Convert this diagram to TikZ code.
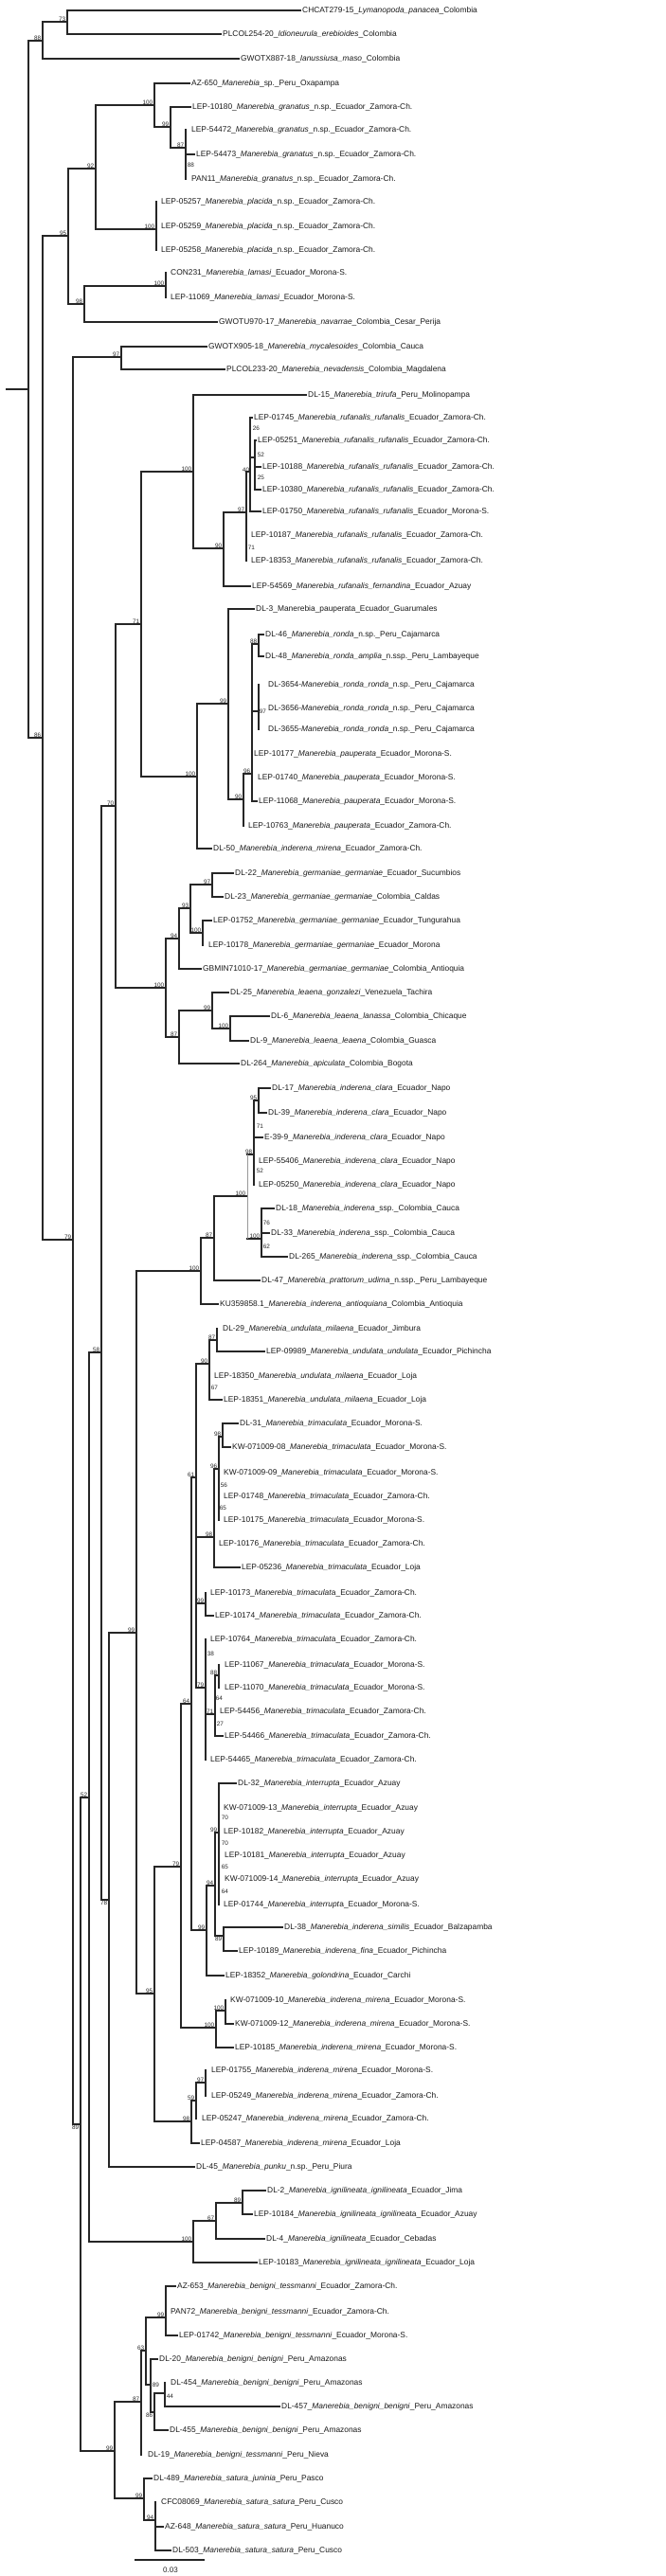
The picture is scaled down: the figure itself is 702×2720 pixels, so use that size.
\documentclass[tikz,border=0pt]{standalone}
\usepackage{fontspec}
\setmainfont{Liberation Sans}
\tikzset{
 br/.style={line width=1.3pt, draw=black!85, line cap=rect},
 leaf/.style={anchor=west, inner xsep=2pt, inner ysep=0pt, text height=6.4pt, text depth=0.6pt, font=\fontsize{8.4}{10}\selectfont, text=black!90},
 sup/.style={inner sep=0.7pt, font=\fontsize{6.4}{7}\selectfont, text=black!85},
}
\newcommand\Lf[4]{\node[leaf] (#1) at (#2-2,#3) {#4};}
\newcommand\Nd[3]{\coordinate (#1) at (#2,#3);}
\newcommand\Br[2]{\draw[br] (#1 |- #2.west) -- (#2.west);}
\newcommand\Vt[3]{\draw[br] (#1 |- #2) -- (#1 |- #3);}
\newcommand\St[2]{\draw[br] (#1 |- #2) -- (#2);}
\newcommand\Sl[2]{\node[sup,anchor=south east] at ([xshift=-0.8pt]#1) {#2};}
\newcommand\Slb[2]{\node[sup,anchor=north east] at ([xshift=-0.8pt]#1) {#2};}
\newcommand\Sx[3]{\node[sup,anchor=west] at (#1,#2) {#3};}
\newcommand\Spn[3]{#1\_\textit{#2}\_#3}
\begin{document}
\begin{tikzpicture}[x=1pt,y=-1pt]
\useasboundingbox (0,0) rectangle (702,2720);
% ---------------- leaves
\Lf{L1}{319}{11}{\Spn{CHCAT279-15}{Lymanopoda\_panacea}{Colombia}}
\Lf{L2}{235}{36}{\Spn{PLCOL254-20}{Idioneurula\_erebioides}{Colombia}}
\Lf{L3}{254}{62}{\Spn{GWOTX887-18}{Ianussiusa\_maso}{Colombia}}
\Lf{L4}{202}{88}{\Spn{AZ-650}{Manerebia}{sp.\_Peru\_Oxapampa}}
\Lf{L5}{203}{113}{\Spn{LEP-10180}{Manerebia\_granatus}{n.sp.\_Ecuador\_Zamora-Ch.}}
\Lf{L6}{202}{137}{\Spn{LEP-54472}{Manerebia\_granatus}{n.sp.\_Ecuador\_Zamora-Ch.}}
\Lf{L7}{207}{163}{\Spn{LEP-54473}{Manerebia\_granatus}{n.sp.\_Ecuador\_Zamora-Ch.}}
\Lf{L8}{202}{189}{\Spn{PAN11}{Manerebia\_granatus}{n.sp.\_Ecuador\_Zamora-Ch.}}
\Lf{L9}{170}{213}{\Spn{LEP-05257}{Manerebia\_placida}{n.sp.\_Ecuador\_Zamora-Ch.}}
\Lf{L10}{170}{239}{\Spn{LEP-05259}{Manerebia\_placida}{n.sp.\_Ecuador\_Zamora-Ch.}}
\Lf{L11}{170}{264}{\Spn{LEP-05258}{Manerebia\_placida}{n.sp.\_Ecuador\_Zamora-Ch.}}
\Lf{L12}{180}{288}{\Spn{CON231}{Manerebia\_lamasi}{Ecuador\_Morona-S.}}
\Lf{L13}{180}{314}{\Spn{LEP-11069}{Manerebia\_lamasi}{Ecuador\_Morona-S.}}
\Lf{L14}{231}{340}{\Spn{GWOTU970-17}{Manerebia\_navarrae}{Colombia\_Cesar\_Perija}}
\Lf{L15}{220}{366}{\Spn{GWOTX905-18}{Manerebia\_mycalesoides}{Colombia\_Cauca}}
\Lf{L16}{239}{390}{\Spn{PLCOL233-20}{Manerebia\_nevadensis}{Colombia\_Magdalena}}
\Lf{L17}{325}{417}{\Spn{DL-15}{Manerebia\_trirufa}{Peru\_Molinopampa}}
\Lf{L18}{268}{441}{\Spn{LEP-01745}{Manerebia\_rufanalis\_rufanalis}{Ecuador\_Zamora-Ch.}}
\Lf{L19}{272}{465}{\Spn{LEP-05251}{Manerebia\_rufanalis\_rufanalis}{Ecuador\_Zamora-Ch.}}
\Lf{L20}{277}{493}{\Spn{LEP-10188}{Manerebia\_rufanalis\_rufanalis}{Ecuador\_Zamora-Ch.}}
\Lf{L21}{277}{517}{\Spn{LEP-10380}{Manerebia\_rufanalis\_rufanalis}{Ecuador\_Zamora-Ch.}}
\Lf{L22}{277}{540}{\Spn{LEP-01750}{Manerebia\_rufanalis\_rufanalis}{Ecuador\_Morona-S.}}
\Lf{L23}{265}{565}{\Spn{LEP-10187}{Manerebia\_rufanalis\_rufanalis}{Ecuador\_Zamora-Ch.}}
\Lf{L24}{265}{592}{\Spn{LEP-18353}{Manerebia\_rufanalis\_rufanalis}{Ecuador\_Zamora-Ch.}}
\Lf{L25}{266}{619}{\Spn{LEP-54569}{Manerebia\_rufanalis\_fernandina}{Ecuador\_Azuay}}
\Lf{L26}{270}{643}{DL-3\_Manerebia\_pauperata\_Ecuador\_Guarumales}
\Lf{L27}{280}{670}{\Spn{DL-46}{Manerebia\_ronda}{n.sp.\_Peru\_Cajamarca}}
\Lf{L28}{280}{693}{\Spn{DL-48}{Manerebia\_ronda\_amplia}{n.ssp.\_Peru\_Lambayeque}}
\Lf{L29}{283}{723}{DL-3654-\textit{Manerebia\_ronda\_ronda}\_n.sp.\_Peru\_Cajamarca}
\Lf{L30}{283}{748}{DL-3656-\textit{Manerebia\_ronda\_ronda}\_n.sp.\_Peru\_Cajamarca}
\Lf{L31}{283}{770}{DL-3655-\textit{Manerebia\_ronda\_ronda}\_n.sp.\_Peru\_Cajamarca}
\Lf{L32}{268}{796}{\Spn{LEP-10177}{Manerebia\_pauperata}{Ecuador\_Morona-S.}}
\Lf{L33}{272}{821}{\Spn{LEP-01740}{Manerebia\_pauperata}{Ecuador\_Morona-S.}}
\Lf{L34}{273}{846}{\Spn{LEP-11068}{Manerebia\_pauperata}{Ecuador\_Morona-S.}}
\Lf{L35}{262}{872}{\Spn{LEP-10763}{Manerebia\_pauperata}{Ecuador\_Zamora-Ch.}}
\Lf{L36}{225}{896}{\Spn{DL-50}{Manerebia\_inderena\_mirena}{Ecuador\_Zamora-Ch.}}
\Lf{L37}{248}{922}{\Spn{DL-22}{Manerebia\_germaniae\_germaniae}{Ecuador\_Sucumbios}}
\Lf{L38}{237}{947}{\Spn{DL-23}{Manerebia\_germaniae\_germaniae}{Colombia\_Caldas}}
\Lf{L39}{225}{972}{\Spn{LEP-01752}{Manerebia\_germaniae\_germaniae}{Ecuador\_Tungurahua}}
\Lf{L40}{220}{998}{\Spn{LEP-10178}{Manerebia\_germaniae\_germaniae}{Ecuador\_Morona}}
\Lf{L41}{214}{1023}{\Spn{GBMIN71010-17}{Manerebia\_germaniae\_germaniae}{Colombia\_Antioquia}}
\Lf{L42}{243}{1048}{\Spn{DL-25}{Manerebia\_leaena\_gonzalezi}{Venezuela\_Tachira}}
\Lf{L43}{286}{1073}{\Spn{DL-6}{Manerebia\_leaena\_lanassa}{Colombia\_Chicaque}}
\Lf{L44}{264}{1099}{\Spn{DL-9}{Manerebia\_leaena\_leaena}{Colombia\_Guasca}}
\Lf{L45}{254}{1123}{\Spn{DL-264}{Manerebia\_apiculata}{Colombia\_Bogota}}
\Lf{L46}{287}{1149}{\Spn{DL-17}{Manerebia\_inderena\_clara}{Ecuador\_Napo}}
\Lf{L47}{283}{1175}{\Spn{DL-39}{Manerebia\_inderena\_clara}{Ecuador\_Napo}}
\Lf{L48}{279}{1201}{\Spn{E-39-9}{Manerebia\_inderena\_clara}{Ecuador\_Napo}}
\Lf{L49}{273}{1226}{\Spn{LEP-55406}{Manerebia\_inderena\_clara}{Ecuador\_Napo}}
\Lf{L50}{273}{1251}{\Spn{LEP-05250}{Manerebia\_inderena\_clara}{Ecuador\_Napo}}
\Lf{L51}{291}{1276}{\Spn{DL-18}{Manerebia\_inderena}{ssp.\_Colombia\_Cauca}}
\Lf{L52}{286}{1302}{\Spn{DL-33}{Manerebia\_inderena}{ssp.\_Colombia\_Cauca}}
\Lf{L53}{305}{1327}{\Spn{DL-265}{Manerebia\_inderena}{ssp.\_Colombia\_Cauca}}
\Lf{L54}{276}{1352}{\Spn{DL-47}{Manerebia\_prattorum\_udima}{n.ssp.\_Peru\_Lambayeque}}
\Lf{L55}{232}{1377}{\Spn{KU359858.1}{Manerebia\_inderena\_antioquiana}{Colombia\_Antioquia}}
\Lf{L56}{235}{1403}{\Spn{DL-29}{Manerebia\_undulata\_milaena}{Ecuador\_Jimbura}}
\Lf{L57}{281}{1427}{\Spn{LEP-09989}{Manerebia\_undulata\_undulata}{Ecuador\_Pichincha}}
\Lf{L58}{226}{1453}{\Spn{LEP-18350}{Manerebia\_undulata\_milaena}{Ecuador\_Loja}}
\Lf{L59}{236}{1478}{\Spn{LEP-18351}{Manerebia\_undulata\_milaena}{Ecuador\_Loja}}
\Lf{L60}{253}{1503}{\Spn{DL-31}{Manerebia\_trimaculata}{Ecuador\_Morona-S.}}
\Lf{L61}{245}{1528}{\Spn{KW-071009-08}{Manerebia\_trimaculata}{Ecuador\_Morona-S.}}
\Lf{L62}{236}{1555}{\Spn{KW-071009-09}{Manerebia\_trimaculata}{Ecuador\_Morona-S.}}
\Lf{L63}{236}{1580}{\Spn{LEP-01748}{Manerebia\_trimaculata}{Ecuador\_Zamora-Ch.}}
\Lf{L64}{236}{1605}{\Spn{LEP-10175}{Manerebia\_trimaculata}{Ecuador\_Morona-S.}}
\Lf{L65}{231}{1630}{\Spn{LEP-10176}{Manerebia\_trimaculata}{Ecuador\_Zamora-Ch.}}
\Lf{L66}{255}{1655}{\Spn{LEP-05236}{Manerebia\_trimaculata}{Ecuador\_Loja}}
\Lf{L67}{222}{1682}{LEP-10173\_\textit{Manerebia\_trimaculat}a\_Ecuador\_Zamora-Ch.}
\Lf{L68}{227}{1706}{\Spn{LEP-10174}{Manerebia\_trimaculata}{Ecuador\_Zamora-Ch.}}
\Lf{L69}{222}{1731}{LEP-10764\_\textit{Manerebia\_trimaculat}a\_Ecuador\_Zamora-Ch.}
\Lf{L70}{237}{1758}{\Spn{LEP-11067}{Manerebia\_trimaculata}{Ecuador\_Morona-S.}}
\Lf{L71}{237}{1782}{\Spn{LEP-11070}{Manerebia\_trimaculata}{Ecuador\_Morona-S.}}
\Lf{L72}{232}{1807}{\Spn{LEP-54456}{Manerebia\_trimaculata}{Ecuador\_Zamora-Ch.}}
\Lf{L73}{237}{1833}{\Spn{LEP-54466}{Manerebia\_trimaculata}{Ecuador\_Zamora-Ch.}}
\Lf{L74}{222}{1858}{\Spn{LEP-54465}{Manerebia\_trimaculata}{Ecuador\_Zamora-Ch.}}
\Lf{L75}{251}{1883}{\Spn{DL-32}{Manerebia\_interrupta}{Ecuador\_Azuay}}
\Lf{L76}{236}{1909}{\Spn{KW-071009-13}{Manerebia\_interrupta}{Ecuador\_Azuay}}
\Lf{L77}{236}{1934}{\Spn{LEP-10182}{Manerebia\_interrupta}{Ecuador\_Azuay}}
\Lf{L78}{237}{1959}{\Spn{LEP-10181}{Manerebia\_interrupta}{Ecuador\_Azuay}}
\Lf{L79}{237}{1984}{\Spn{KW-071009-14}{Manerebia\_interrupta}{Ecuador\_Azuay}}
\Lf{L80}{236}{2011}{LEP-01744\_\textit{Manerebia\_interrupt}a\_Ecuador\_Morona-S.}
\Lf{L81}{300}{2035}{\Spn{DL-38}{Manerebia\_inderena\_similis}{Ecuador\_Balzapamba}}
\Lf{L82}{252}{2060}{\Spn{LEP-10189}{Manerebia\_inderena\_fina}{Ecuador\_Pichincha}}
\Lf{L83}{238}{2086}{\Spn{LEP-18352}{Manerebia\_golondrina}{Ecuador\_Carchi}}
\Lf{L84}{243}{2112}{\Spn{KW-071009-10}{Manerebia\_inderena\_mirena}{Ecuador\_Morona-S.}}
\Lf{L85}{248}{2137}{\Spn{KW-071009-12}{Manerebia\_inderena\_mirena}{Ecuador\_Morona-S.}}
\Lf{L86}{248}{2162}{\Spn{LEP-10185}{Manerebia\_inderena\_mirena}{Ecuador\_Morona-S.}}
\Lf{L87}{223}{2186}{\Spn{LEP-01755}{Manerebia\_inderena\_mirena}{Ecuador\_Morona-S.}}
\Lf{L88}{223}{2213}{\Spn{LEP-05249}{Manerebia\_inderena\_mirena}{Ecuador\_Zamora-Ch.}}
\Lf{L89}{213}{2237}{\Spn{LEP-05247}{Manerebia\_inderena\_mirena}{Ecuador\_Zamora-Ch.}}
\Lf{L90}{212}{2263}{\Spn{LEP-04587}{Manerebia\_inderena\_mirena}{Ecuador\_Loja}}
\Lf{L91}{207}{2288}{\Spn{DL-45}{Manerebia\_punku}{n.sp.\_Peru\_Piura}}
\Lf{L92}{282}{2313}{\Spn{DL-2}{Manerebia\_ignilineata\_ignilineata}{Ecuador\_Jima}}
\Lf{L93}{268}{2338}{LEP-10184\_\textit{Manerebia\_ignilineata\_ignilin}eata\_Ecuador\_Azuay}
\Lf{L94}{281}{2364}{\Spn{DL-4}{Manerebia\_ignilineata}{Ecuador\_Cebadas}}
\Lf{L95}{273}{2389}{\Spn{LEP-10183}{Manerebia\_ignilineata\_ignilineata}{Ecuador\_Loja}}
\Lf{L96}{187}{2414}{\Spn{AZ-653}{Manerebia\_benigni\_tessmanni}{Ecuador\_Zamora-Ch.}}
\Lf{L97}{180}{2441}{\Spn{PAN72}{Manerebia\_benigni\_tessmanni}{Ecuador\_Zamora-Ch.}}
\Lf{L98}{189}{2466}{\Spn{LEP-01742}{Manerebia\_benigni\_tessmanni}{Ecuador\_Morona-S.}}
\Lf{L99}{168}{2491}{\Spn{DL-20}{Manerebia\_benigni\_benigni}{Peru\_Amazonas}}
\Lf{L100}{180}{2516}{\Spn{DL-454}{Manerebia\_benigni\_benigni}{Peru\_Amazonas}}
\Lf{L101}{297}{2541}{\Spn{DL-457}{Manerebia\_benigni\_benigni}{Peru\_Amazonas}}
\Lf{L102}{179}{2566}{\Spn{DL-455}{Manerebia\_benigni\_benigni}{Peru\_Amazonas}}
\Lf{L103}{156}{2592}{\Spn{DL-19}{Manerebia\_benigni\_tessmanni}{Peru\_Nieva}}
\Lf{L104}{162}{2617}{\Spn{DL-489}{Manerebia\_satura\_juninia}{Peru\_Pasco}}
\Lf{L105}{170}{2642}{\Spn{CFC08069}{Manerebia\_satura\_satura}{Peru\_Cusco}}
\Lf{L106}{174}{2668}{\Spn{AZ-648}{Manerebia\_satura\_satura}{Peru\_Huanuco}}
\Lf{L107}{182}{2693}{\Spn{DL-503}{Manerebia\_satura\_satura}{Peru\_Cusco}}
% ---------------- internal nodes
\Nd{r0}{7}{411}\Nd{root}{30}{411}
\Nd{n88a}{45}{43}\Nd{n73}{71}{23}\Nd{n86}{45}{779}\Nd{n95}{72}{249}
\Nd{n92}{101}{178}\Nd{n100a}{163}{111}\Nd{n99a}{180}{134}\Nd{n87a}{196}{156}
\Nd{n100b}{165}{242}\Nd{n98a}{89}{321}\Nd{n100c}{175}{302}
\Nd{n79}{77}{1309}\Nd{n97a}{128}{377}\Nd{n89}{85}{2243}\Nd{n52}{94}{1898}
\Nd{n58}{107}{1428}\Nd{n70}{122}{851}\Nd{n71}{149}{659}
\Nd{n100d}{204}{498}\Nd{n90a}{236}{579}\Nd{n97b}{260}{541}\Nd{n40}{264}{498}\Nd{n52b}{269}{483}
\Nd{n100e}{208}{820}\Nd{n99b}{241}{743}\Nd{n90b}{257}{844}\Nd{n96a}{266}{817}
\Nd{n88b}{273}{680}\Nd{n97c}{273}{751}
\Nd{n100f}{175}{1043}\Nd{n94a}{189}{991}\Nd{n93}{201}{959}\Nd{n97d}{224}{934}\Nd{n100g}{214}{985}
\Nd{n87b}{189}{1095}\Nd{n99c}{224}{1067}\Nd{n100h}{243}{1086}
\Nd{n78}{115}{2006}\Nd{n99d}{144}{1724}\Nd{n100i}{212}{1342}\Nd{n87c}{226}{1307}
\Nd{n100j}{261}{1263}\Nd{n98b}{268}{1219}\Nd{n95b}{273}{1162}\Nd{n100k}{276}{1308}
\Nd{n95c}{163}{2105}\Nd{n79b}{191}{1971}\Nd{n64}{202}{1799}\Nd{n61}{207}{1560}
\Nd{n90c}{221}{1440}\Nd{n87d}{229}{1415}\Nd{n98c}{226}{1623}\Nd{n96b}{231}{1551}\Nd{n98d}{235}{1517}
\Nd{n99e}{217}{1693}\Nd{n79c}{217}{1782}\Nd{n71b}{227}{1810}\Nd{n88c}{231}{1769}
\Nd{n99f}{218}{2038}\Nd{n94b}{227}{1991}\Nd{n99g}{231}{1935}\Nd{n89b}{236}{2044}
\Nd{n100l}{228}{2141}\Nd{n100m}{238}{2123}\Nd{n98e}{202}{2240}\Nd{n59}{207}{2218}\Nd{n97e}{217}{2199}
\Nd{n100n}{204}{2367}\Nd{n67}{228}{2345}\Nd{n89c}{256}{2326}
\Nd{n99h}{121}{2588}\Nd{n87e}{149}{2536}\Nd{n63}{154}{2482}\Nd{n99i}{175}{2447}
\Nd{n89d}{159}{2518}\Nd{n86b}{163}{2547}\Nd{n44}{174}{2527}\Nd{n99j}{152}{2638}\Nd{n94c}{164}{2661}
% ---------------- branches
\St{r0}{root}
\St{root}{n88a}\St{root}{n86}\Vt{root}{n88a}{n86}
\St{n88a}{n73}\Vt{n88a}{n73}{L3}\Br{n88a}{L3}
\Vt{n73}{L1}{L2}\Br{n73}{L1}\Br{n73}{L2}
\St{n86}{n95}\St{n86}{n79}\Vt{n86}{n95}{n79}
\St{n95}{n92}\St{n95}{n98a}\Vt{n95}{n92}{n98a}
\St{n92}{n100a}\St{n92}{n100b}\Vt{n92}{n100a}{n100b}
\Vt{n100a}{L4}{n99a}\Br{n100a}{L4}\St{n100a}{n99a}
\Vt{n99a}{L5}{n87a}\Br{n99a}{L5}\St{n99a}{n87a}
\Vt{n87a}{L6}{L8}\Br{n87a}{L7}
\Vt{n100b}{L9}{L11}
\St{n98a}{n100c}\Vt{n98a}{n100c}{L14}\Br{n98a}{L14}
\Vt{n100c}{L12}{L13}
\St{n79}{n97a}\St{n79}{n89}\Vt{n79}{n97a}{n89}
\Vt{n97a}{L15}{L16}\Br{n97a}{L15}\Br{n97a}{L16}
\St{n89}{n52}\St{n89}{n99h}\Vt{n89}{n52}{n99h}
\St{n52}{n58}\St{n52}{n100n}\Vt{n52}{n58}{n100n}
\St{n58}{n70}\St{n58}{n78}\Vt{n58}{n70}{n78}
\St{n70}{n71}\St{n70}{n100f}\Vt{n70}{n71}{n100f}
\St{n71}{n100d}\St{n71}{n100e}\Vt{n71}{n100d}{n100e}
\Vt{n100d}{L17}{n90a}\Br{n100d}{L17}\St{n100d}{n90a}
\St{n90a}{n97b}\Vt{n90a}{n97b}{L25}\Br{n90a}{L25}
\St{n97b}{n40}\Vt{n97b}{n40}{L24}
\Vt{n40}{L18}{L22}\Br{n40}{L18}\St{n40}{n52b}\Br{n40}{L22}
\Vt{n52b}{L19}{L21}\Br{n52b}{L19}\Br{n52b}{L20}\Br{n52b}{L21}
\St{n100e}{n99b}\Vt{n100e}{n99b}{L36}\Br{n100e}{L36}
\Vt{n99b}{L26}{n90b}\Br{n99b}{L26}\St{n99b}{n90b}
\St{n90b}{n96a}\Vt{n90b}{n96a}{L35}
\St{n96a}{n88b}\St{n96a}{n97c}\Vt{n96a}{n88b}{L34}\Br{n96a}{L34}
\Vt{n88b}{L27}{L28}\Br{n88b}{L27}\Br{n88b}{L28}
\Vt{n97c}{L29}{L31}
\St{n100f}{n94a}\St{n100f}{n87b}\Vt{n100f}{n94a}{n87b}
\St{n94a}{n93}\Vt{n94a}{n93}{L41}\Br{n94a}{L41}
\St{n93}{n97d}\St{n93}{n100g}\Vt{n93}{n97d}{n100g}
\Vt{n97d}{L37}{L38}\Br{n97d}{L37}\Br{n97d}{L38}
\Vt{n100g}{L39}{L40}\Br{n100g}{L39}
\St{n87b}{n99c}\Vt{n87b}{n99c}{L45}\Br{n87b}{L45}
\Vt{n99c}{L42}{n100h}\Br{n99c}{L42}\St{n99c}{n100h}
\Vt{n100h}{L43}{L44}\Br{n100h}{L43}\Br{n100h}{L44}
\St{n78}{n99d}\Vt{n78}{n99d}{L91}\Br{n78}{L91}
\St{n99d}{n100i}\St{n99d}{n95c}\Vt{n99d}{n100i}{n95c}
\St{n100i}{n87c}\Vt{n100i}{n87c}{L55}\Br{n100i}{L55}
\St{n87c}{n100j}\Vt{n87c}{n100j}{L54}\Br{n87c}{L54}
\St{n100j}{n98b}\St{n100j}{n100k}
\draw[br,draw=black!40,line width=0.8pt] (n100j |- n98b) -- (n100j |- n100k);
\St{n98b}{n95b}\Vt{n98b}{n95b}{L50}\Br{n98b}{L48}
\Vt{n95b}{L46}{L47}\Br{n95b}{L46}\Br{n95b}{L47}
\Vt{n100k}{L51}{L53}\Br{n100k}{L51}\Br{n100k}{L52}\Br{n100k}{L53}
\St{n95c}{n79b}\St{n95c}{n98e}\Vt{n95c}{n79b}{n98e}
\St{n79b}{n64}\St{n79b}{n100l}\Vt{n79b}{n64}{n100l}
\St{n64}{n61}\St{n64}{n99f}\Vt{n64}{n61}{n99f}
\St{n61}{n90c}\St{n61}{n98c}\St{n61}{n99e}\St{n61}{n79c}\Vt{n61}{n90c}{n79c}
\St{n90c}{n87d}\Vt{n90c}{n87d}{L59}\Br{n90c}{L59}
\Vt{n87d}{L56}{L57}\Br{n87d}{L57}
\St{n98c}{n96b}\Vt{n98c}{n96b}{L66}\Br{n98c}{L66}
\St{n96b}{n98d}\Vt{n96b}{n98d}{L64}
\Vt{n98d}{L60}{L61}\Br{n98d}{L60}\Br{n98d}{L61}
\Vt{n99e}{L67}{L68}\Br{n99e}{L68}
\Vt{n79c}{L69}{L74}\St{n79c}{n71b}
\St{n71b}{n88c}\Vt{n71b}{n88c}{L73}\Br{n71b}{L73}
\Vt{n88c}{L70}{L71}
\St{n99f}{n94b}\Vt{n99f}{n94b}{L83}\Br{n99f}{L83}
\St{n94b}{n99g}\St{n94b}{n89b}\Vt{n94b}{n99g}{n89b}
\Vt{n99g}{L75}{L80}\Br{n99g}{L75}
\Vt{n89b}{L81}{L82}\Br{n89b}{L81}\Br{n89b}{L82}
\St{n100l}{n100m}\Vt{n100l}{n100m}{L86}\Br{n100l}{L86}
\Vt{n100m}{L84}{L85}\Br{n100m}{L85}
\St{n98e}{n59}\Vt{n98e}{n59}{L90}\Br{n98e}{L90}
\St{n59}{n97e}\Vt{n59}{n97e}{L89}
\Vt{n97e}{L87}{L88}
\St{n100n}{n67}\Vt{n100n}{n67}{L95}\Br{n100n}{L95}
\St{n67}{n89c}\Vt{n67}{n89c}{L94}\Br{n67}{L94}
\Vt{n89c}{L92}{L93}\Br{n89c}{L92}\Br{n89c}{L93}
\St{n99h}{n87e}\St{n99h}{n99j}\Vt{n99h}{n87e}{n99j}
\St{n87e}{n63}\Vt{n87e}{n63}{L103}
\St{n63}{n99i}\St{n63}{n89d}\Vt{n63}{n99i}{n89d}
\Vt{n99i}{L96}{L98}\Br{n99i}{L96}\Br{n99i}{L98}
\Vt{n89d}{L99}{n86b}\Br{n89d}{L99}\St{n89d}{n86b}
\St{n86b}{n44}\Vt{n86b}{n44}{L102}\Br{n86b}{L102}
\Vt{n44}{L100}{L101}\Br{n44}{L101}
\St{n99j}{n94c}\Vt{n99j}{L104}{n94c}\Br{n99j}{L104}
\Vt{n94c}{L105}{L107}\Br{n94c}{L106}\Br{n94c}{L107}
% ---------------- support values
\Sl{n73}{73}\Sl{n88a}{88}\Sl{n86}{86}\Sl{n95}{95}\Sl{n92}{92}
\Sl{n100a}{100}\Sl{n99a}{99}\Sl{n87a}{87}\Sx{197}{174}{88}
\Sl{n100b}{100}\Sl{n98a}{98}\Sl{n100c}{100}\Sl{n79}{79}\Sl{n97a}{97}
\Slb{n89}{89}\Sl{n52}{52}\Sl{n58}{58}\Sl{n70}{70}\Sl{n71}{71}
\Sl{n100d}{100}\Sl{n90a}{90}\Sl{n97b}{97}
\node[sup,anchor=east] (lab40) at (264,496) {40};
\Sx{266}{452}{26}\Sx{271}{480}{52}\Sx{271}{504}{25}\Sx{261}{578}{71}
\Sl{n100e}{100}\Sl{n99b}{99}\Sl{n90b}{90}\Sl{n96a}{96}\Sl{n88b}{88}\Sx{273}{751}{97}
\Sl{n100f}{100}\Sl{n94a}{94}\Sl{n93}{93}\Sl{n97d}{97}\Sl{n100g}{100}
\Sl{n87b}{87}\Sl{n99c}{99}\Sl{n100h}{100}
\Slb{n78}{78}\Sl{n99d}{99}\Sl{n100i}{100}\Sl{n87c}{87}\Sl{n100j}{100}
\Sl{n98b}{98}\Sl{n95b}{95}\Sx{270}{1189}{71}\Sx{270}{1236}{52}
\Sl{n100k}{100}\Sx{277}{1291}{76}\Sx{277}{1316}{62}
\Sl{n95c}{95}\Sl{n79b}{79}\Sl{n64}{64}\Sl{n61}{61}\Sl{n90c}{90}\Sl{n87d}{87}\Sx{222}{1465}{67}
\Sl{n98c}{98}\Sl{n96b}{96}\Sl{n98d}{98}\Sx{232}{1568}{56}\Sx{231}{1592}{65}
\Sl{n99e}{99}\Sl{n79c}{79}\Sx{218}{1746}{38}\Sl{n88c}{88}\Sx{227}{1793}{64}
\Sl{n71b}{71}\Sx{228}{1820}{27}
\Sl{n99f}{99}\Sl{n94b}{94}\Sl{n99g}{99}
\Sx{233}{1919}{70}\Sx{233}{1946}{70}\Sx{233}{1971}{65}\Sx{233}{1997}{64}
\Slb{n89b}{89}\Sl{n100l}{100}\Sl{n100m}{100}\Sl{n98e}{98}\Sl{n59}{59}\Sl{n97e}{97}
\Sl{n100n}{100}\Sl{n67}{67}\Sl{n89c}{89}
\Sl{n99h}{99}\Sl{n87e}{87}\Sl{n63}{63}\Sl{n99i}{99}\Sx{160}{2518}{89}
\Slb{n86b}{86}\Sx{175}{2530}{44}\Sl{n99j}{99}\Sl{n94c}{94}
% ---------------- scale bar
\coordinate (sb1) at (143,2703);
\coordinate (sb2) at (215,2703);
\draw[br] (sb1) -- (sb2);
\node[font=\fontsize{8}{9}\selectfont, text=black!85] (sbl) at (180,2714) {0.03};
\end{tikzpicture}
\end{document}
